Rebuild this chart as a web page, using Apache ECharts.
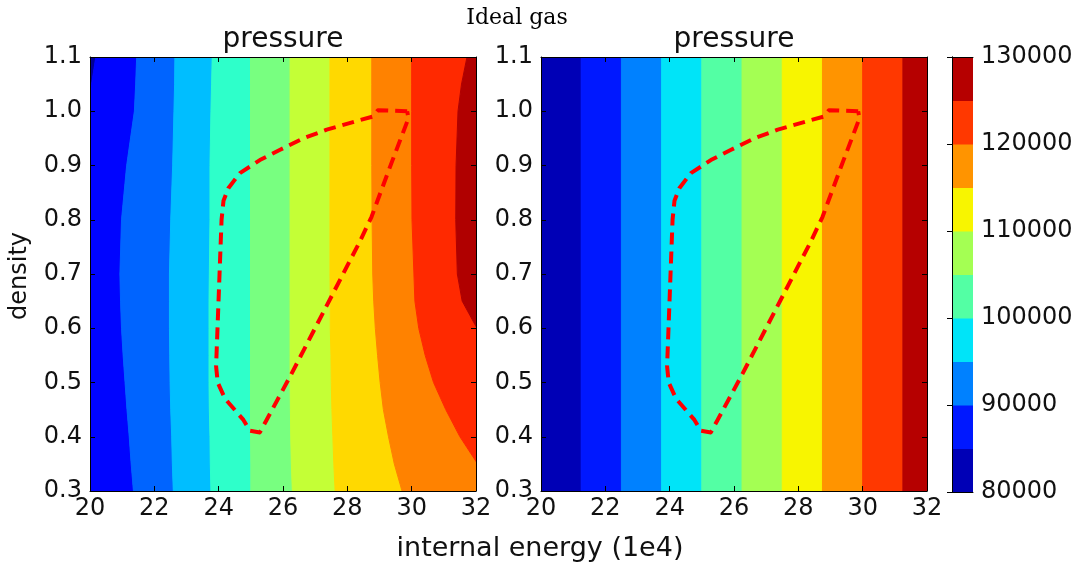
<!DOCTYPE html>
<html><head><meta charset="utf-8">
<script src="https://cdn.jsdelivr.net/npm/echarts@6/dist/echarts.min.js"></script>
<style>html,body{margin:0;padding:0;background:#fff}#c{width:1078px;height:565px}</style>
</head><body><div id="c"></div>
<script>
// ---------- data ----------
const densityRows = [0.3,0.35,0.4,0.45,0.5,0.55,0.6,0.65,0.7,0.8,0.9,1.0,1.05,1.1];
// left panel: contour boundaries (internal energy, 1e4) at each density row
const leftB0  = [18,18,18,18,18,18,18,18,18,18,18,18,18,18];
const leftB1  = [19,19,19,19,19,19,19,19,19,19.4,19.75,19.97,20.05,20.18];
const leftB2  = [21.35,21.28,21.22,21.15,21.09,21.03,20.98,20.95,20.93,20.98,21.14,21.38,21.42,21.45];
const leftB3  = [22.59,22.56,22.54,22.51,22.49,22.48,22.47,22.47,22.47,22.51,22.57,22.61,22.63,22.64];
const leftB4  = [23.76,23.74,23.73,23.71,23.70,23.70,23.70,23.70,23.71,23.73,23.73,23.76,23.78,23.80];
const leftB5  = [25.0,25.0,24.99,24.99,24.99,24.99,24.99,24.99,24.99,24.99,24.99,24.99,24.99,24.99];
const leftB6  = [26.29,26.26,26.24,26.23,26.22,26.22,26.22,26.22,26.22,26.22,26.22,26.22,26.22,26.22];
const leftB7  = [27.62,27.58,27.55,27.52,27.50,27.49,27.47,27.47,27.46,27.46,27.46,27.46,27.46,27.46];
const leftB8  = [29.70,29.46,29.28,29.12,29.02,28.94,28.87,28.82,28.79,28.77,28.76,28.76,28.76,28.76];
const leftB9  = [32.6,32.05,31.5,31.06,30.68,30.42,30.22,30.1,30.07,30.01,30.0,30.0,30.0,30.0];
const leftB10 = [35,34.5,34,33.5,33,32.5,32.03,31.57,31.42,31.37,31.38,31.44,31.55,31.72];
const leftB11 = [36,36,36,36,36,36,36,36,36,36,36,36,36,36];
const leftColors = ['#000097','#0004ff','#0064ff','#00beff','#2effca','#78ff80','#c4ff36','#ffd900','#ff8200','#ff2900','#b00000'];

// right panel: boundaries of vertical bands (internal energy, 1e4)
const rightBounds = [20,21.25,22.5,23.75,25,26.25,27.5,28.75,30,31.25,32];
const pressureLevels = [80000,85000,90000,95000,100000,105000,110000,115000,120000,125000,130000];
const levelColors = ['#0000b6','#0018ff','#0081ff','#00e4f8','#53ffa4','#a4ff53','#f8f500','#ff9400','#ff3800','#b60000'];

// dashed red region boundary
const pathEnergy  = [29.86,28.95,28.78,28.29,27.36,26.63,25.91,25.28,24.66,24.30,24.15,24.09,23.92,23.97,24.2,24.77,24.97,25.28,25.49,26.22,28.39,28.75,29.33,29.9,29.86];
const pathDensity = [1.0,1.002,0.99,0.982,0.966,0.950,0.929,0.910,0.886,0.858,0.835,0.80,0.53,0.50,0.47,0.431,0.411,0.408,0.431,0.511,0.760,0.805,0.898,0.987,1.0];

const xTicks = [20,22,24,26,28,30,32];
const yTicks = [0.3,0.4,0.5,0.6,0.7,0.8,0.9,1.0,1.1];
const cbTicks = [80000,90000,100000,110000,120000,130000];

// ---------- build ----------
const leftBoundaries = [leftB0,leftB1,leftB2,leftB3,leftB4,leftB5,leftB6,leftB7,leftB8,leftB9,leftB10,leftB11];
const FONT = 'DejaVu Sans';
const chart = echarts.init(document.getElementById('c'), null, {renderer:'canvas'});

const G = [
  {left:90, top:57, width:386, height:434},
  {left:541, top:57, width:386, height:434},
  {left:952, top:57, width:21, height:435}
];
const tick = {inside:true, length:5, lineStyle:{color:'#000', width:1}};
const line = {show:true, lineStyle:{color:'#000', width:1}};
const lbl = {color:'#111', fontFamily:FONT, fontSize:24};

function xAx(g, pos, labels){
  return {type:'value', gridIndex:g, position:pos, min:xTicks[0], max:xTicks[xTicks.length-1], interval:2, z:10,
    axisLine:line, axisTick:tick, splitLine:{show:false},
    axisLabel: labels ? Object.assign({margin:6, formatter:v=>String(v), showMinLabel:true, showMaxLabel:true}, lbl) : {show:false}};
}
function yAx(g, pos, labels){
  return {type:'value', gridIndex:g, position:pos, min:yTicks[0], max:yTicks[yTicks.length-1], interval:0.1, z:10,
    axisLine:line, axisTick:tick, splitLine:{show:false},
    axisLabel: labels ? Object.assign({margin:8, formatter:v=>v.toFixed(1), showMinLabel:true, showMaxLabel:true}, lbl) : {show:false}};
}

function leftBand(params, api){
  const i = params.dataIndex;
  const a = leftBoundaries[i], b = leftBoundaries[i+1];
  const pts = [];
  for (let k=0;k<densityRows.length;k++) pts.push(api.coord([a[k], densityRows[k]]));
  for (let k=densityRows.length-1;k>=0;k--) pts.push(api.coord([b[k], densityRows[k]]));
  return {type:'polygon', shape:{points:pts}, style:{fill:leftColors[i], stroke:leftColors[i], lineWidth:1}};
}
function rightBand(params, api){
  const i = params.dataIndex;
  const lo = yTicks[0], hi = yTicks[yTicks.length-1];
  const pts = [api.coord([rightBounds[i],lo]), api.coord([rightBounds[i],hi]), api.coord([rightBounds[i+1],hi]), api.coord([rightBounds[i+1],lo])];
  return {type:'polygon', shape:{points:pts}, style:{fill:levelColors[i], stroke:levelColors[i], lineWidth:1}};
}
function cbBand(params, api){
  const i = params.dataIndex;
  const pts = [api.coord([0,pressureLevels[i]]), api.coord([0,pressureLevels[i+1]]), api.coord([1,pressureLevels[i+1]]), api.coord([1,pressureLevels[i]])];
  return {type:'polygon', shape:{points:pts}, style:{fill:levelColors[i], stroke:levelColors[i], lineWidth:1}};
}

const pathData = pathEnergy.map((e,i)=>[e, pathDensity[i]]);
const dashed = {type:'line', data:pathData, symbol:'none', z:5, silent:true, animation:false,
  lineStyle:{color:'#ff0000', width:4, type:[12,7], cap:'butt', join:'round'}};

const option = {
  animation:false,
  backgroundColor:'#ffffff',
  grid:G,
  xAxis:[xAx(0,'bottom',true), xAx(0,'top',false), xAx(1,'bottom',true), xAx(1,'top',false),
    {type:'value', gridIndex:2, position:'bottom', min:0, max:1, z:10, axisLine:line, axisTick:{show:false}, axisLabel:{show:false}, splitLine:{show:false}},
    {type:'value', gridIndex:2, position:'top', min:0, max:1, z:10, axisLine:line, axisTick:{show:false}, axisLabel:{show:false}, splitLine:{show:false}}],
  yAxis:[yAx(0,'left',true), yAx(0,'right',false), yAx(1,'left',true), yAx(1,'right',false),
    {type:'value', gridIndex:2, position:'left', min:80000, max:130000, interval:10000, z:10, axisLine:line, axisTick:{show:false}, axisLabel:{show:false}, splitLine:{show:false}},
    {type:'value', gridIndex:2, position:'right', min:80000, max:130000, interval:10000, z:10, axisLine:line, axisTick:tick, splitLine:{show:false},
      axisLabel:Object.assign({margin:8, showMinLabel:true, showMaxLabel:true, formatter:v=>String(v)}, lbl, {fontSize:24})}],
  series:[
    {type:'custom', xAxisIndex:0, yAxisIndex:0, renderItem:leftBand, clip:true, data:leftColors.map((c,i)=>i), silent:true},
    Object.assign({xAxisIndex:0, yAxisIndex:0}, dashed),
    {type:'custom', xAxisIndex:2, yAxisIndex:2, renderItem:rightBand, clip:true, data:levelColors.map((c,i)=>i), silent:true},
    Object.assign({xAxisIndex:2, yAxisIndex:2}, dashed),
    {type:'custom', xAxisIndex:4, yAxisIndex:5, renderItem:cbBand, clip:true, data:levelColors.map((c,i)=>i), silent:true}
  ],
  graphic:[
    {type:'text', x:517, y:18, style:{text:'Ideal gas', font:'22px "DejaVu Serif"', fill:'#000', textAlign:'center', textVerticalAlign:'middle'}},
    {type:'text', x:283, y:40, style:{text:'pressure', font:'28px "DejaVu Sans"', fill:'#111', textAlign:'center', textVerticalAlign:'middle'}},
    {type:'text', x:734, y:40, style:{text:'pressure', font:'28px "DejaVu Sans"', fill:'#111', textAlign:'center', textVerticalAlign:'middle'}},
    {type:'text', x:20, y:276, rotation:Math.PI/2, style:{text:'density', font:'24px "DejaVu Sans"', fill:'#111', textAlign:'center', textVerticalAlign:'middle'}},
    {type:'text', x:540, y:549, style:{text:'internal energy (1e4)', font:'27px "DejaVu Sans"', fill:'#111', textAlign:'center', textVerticalAlign:'middle'}}
  ]
};
chart.setOption(option);
</script></body></html>
